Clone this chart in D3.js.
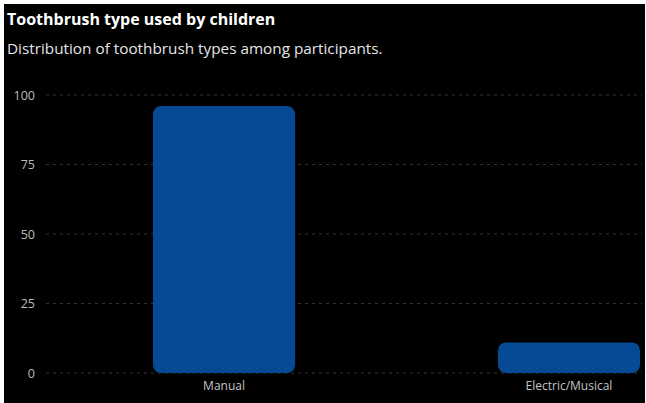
<!DOCTYPE html>
<html>
<head>
<meta charset="utf-8">
<script src="https://cdn.jsdelivr.net/npm/d3@7"></script>
<style>
  html, body { margin: 0; padding: 0; background: #fff; }
  svg { display: block; }
</style>
</head>
<body>
<div id="chart"></div>
<script>
const title = 'Toothbrush type used by children';
const subtitle = 'Distribution of toothbrush types among participants.';
const categories = ['Manual', 'Electric/Musical'];
const counts = [96, 11];
const yTicks = [0, 25, 50, 75, 100];

const W = 646, H = 403;
const font = '"Open Sans", "Noto Sans", sans-serif';

const svg = d3.select('#chart')
  .append('svg')
  .attr('width', W)
  .attr('height', H);

// dark panel, thin white frame on top/left/right
svg.append('rect')
  .attr('x', 4).attr('y', 4)
  .attr('width', 641).attr('height', H - 4)
  .attr('fill', '#000');

svg.append('text')
  .attr('x', 7).attr('y', 25)
  .style('font-family', font)
  .style('font-size', '16px')
  .style('font-weight', 700)
  .style('fill', '#fff')
  .text(title);

svg.append('text')
  .attr('x', 7).attr('y', 54)
  .style('font-family', font)
  .style('font-size', '15.3px')
  .style('fill', '#e6e6e6')
  .text(subtitle);

const x = d3.scaleBand()
  .domain(categories)
  .range([153, 640])
  .paddingInner(0.588)
  .paddingOuter(0);

const y = d3.scaleLinear()
  .domain([0, 100])
  .range([373, 95]);

// gridlines
svg.append('g')
  .selectAll('line')
  .data(yTicks)
  .enter()
  .append('line')
  .attr('x1', 46)
  .attr('x2', 642)
  .attr('y1', d => y(d))
  .attr('y2', d => y(d))
  .attr('stroke', '#333')
  .attr('stroke-width', 1)
  .attr('stroke-dasharray', '3,4');

// y axis labels
const yAxis = svg.append('g')
  .attr('transform', 'translate(39,0)')
  .call(d3.axisLeft(y).tickValues(yTicks).tickSize(0).tickPadding(4));
yAxis.select('.domain').remove();
yAxis.selectAll('text')
  .style('font-family', font)
  .style('font-size', '12.5px')
  .style('fill', '#bdbdbd');

// bars
svg.append('g')
  .selectAll('rect')
  .data(categories)
  .enter()
  .append('rect')
  .attr('x', d => x(d))
  .attr('y', (d, i) => y(counts[i]))
  .attr('width', x.bandwidth())
  .attr('height', (d, i) => y(0) - y(counts[i]))
  .attr('rx', 8)
  .attr('ry', 8)
  .attr('fill', '#064a95');

// x axis labels
const xAxis = svg.append('g')
  .attr('transform', `translate(0,${y(0)})`)
  .call(d3.axisBottom(x).tickSize(0).tickPadding(8));
xAxis.select('.domain').remove();
xAxis.selectAll('text')
  .style('font-family', font)
  .style('font-size', '12px')
  .style('fill', '#c4c4c4');
</script>
</body>
</html>
